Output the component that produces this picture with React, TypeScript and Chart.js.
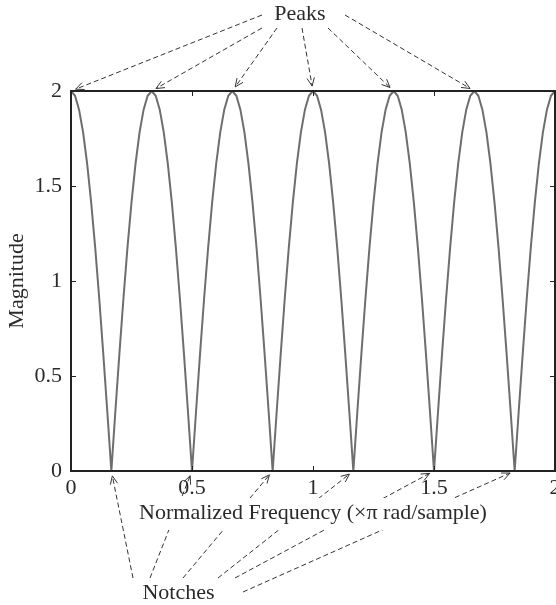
import React, { useEffect, useRef } from "react";
import { Chart, registerables } from "chart.js";

Chart.register(...registerables);

// Normalized frequency (×π rad/sample)
const freqs = [
  0, 0.0167, 0.0333, 0.05, 0.0667, 0.0833, 0.1, 0.1167, 0.1333, 0.15,
  0.1667, 0.1833, 0.2, 0.2167, 0.2333, 0.25, 0.2667, 0.2833, 0.3, 0.3167,
  0.3333, 0.35, 0.3667, 0.3833, 0.4, 0.4167, 0.4333, 0.45, 0.4667, 0.4833,
  0.5, 0.5167, 0.5333, 0.55, 0.5667, 0.5833, 0.6, 0.6167, 0.6333, 0.65,
  0.6667, 0.6833, 0.7, 0.7167, 0.7333, 0.75, 0.7667, 0.7833, 0.8, 0.8167,
  0.8333, 0.85, 0.8667, 0.8833, 0.9, 0.9167, 0.9333, 0.95, 0.9667, 0.9833,
  1, 1.0167, 1.0333, 1.05, 1.0667, 1.0833, 1.1, 1.1167, 1.1333, 1.15,
  1.1667, 1.1833, 1.2, 1.2167, 1.2333, 1.25, 1.2667, 1.2833, 1.3, 1.3167,
  1.3333, 1.35, 1.3667, 1.3833, 1.4, 1.4167, 1.4333, 1.45, 1.4667, 1.4833,
  1.5, 1.5167, 1.5333, 1.55, 1.5667, 1.5833, 1.6, 1.6167, 1.6333, 1.65,
  1.6667, 1.6833, 1.7, 1.7167, 1.7333, 1.75, 1.7667, 1.7833, 1.8, 1.8167,
  1.8333, 1.85, 1.8667, 1.8833, 1.9, 1.9167, 1.9333, 1.95, 1.9667, 1.9833,
  2,
];

// Magnitude response
const magnitude = [
  2, 1.975, 1.902, 1.782, 1.618, 1.414, 1.176, 0.908, 0.618, 0.313,
  0, 0.313, 0.618, 0.908, 1.176, 1.414, 1.618, 1.782, 1.902, 1.975,
  2, 1.975, 1.902, 1.782, 1.618, 1.414, 1.176, 0.908, 0.618, 0.313,
  0, 0.313, 0.618, 0.908, 1.176, 1.414, 1.618, 1.782, 1.902, 1.975,
  2, 1.975, 1.902, 1.782, 1.618, 1.414, 1.176, 0.908, 0.618, 0.313,
  0, 0.313, 0.618, 0.908, 1.176, 1.414, 1.618, 1.782, 1.902, 1.975,
  2, 1.975, 1.902, 1.782, 1.618, 1.414, 1.176, 0.908, 0.618, 0.313,
  0, 0.313, 0.618, 0.908, 1.176, 1.414, 1.618, 1.782, 1.902, 1.975,
  2, 1.975, 1.902, 1.782, 1.618, 1.414, 1.176, 0.908, 0.618, 0.313,
  0, 0.313, 0.618, 0.908, 1.176, 1.414, 1.618, 1.782, 1.902, 1.975,
  2, 1.975, 1.902, 1.782, 1.618, 1.414, 1.176, 0.908, 0.618, 0.313,
  0, 0.313, 0.618, 0.908, 1.176, 1.414, 1.618, 1.782, 1.902, 1.975,
  2,
];

const xTickValues = [0, 0.5, 1, 1.5, 2];
const xTickLabels = ["0", "0.5", "1", "1.5", "2"];
const yTickValues = [0, 0.5, 1, 1.5, 2];
const yTickLabels = ["0", "0.5", "1", "1.5", "2"];

const peakFreqs = [0, 0.3333, 0.6667, 1, 1.3333, 1.6667];
const peakValue = 2;
const notchFreqs = [0.1667, 0.5, 0.8333, 1.1667, 1.5, 1.8333];
const notchValue = 0;

const peakLabel = "Peaks";
const notchLabel = "Notches";
const xTitle = "Normalized Frequency (×π rad/sample)";
const yTitle = "Magnitude";

const FONT_FAMILY = '"Liberation Serif", "Times New Roman", serif';
const FONT_SIZE = 22;
const TEXT_COLOR = "#2a2a2a";
const AXIS_COLOR = "#222222";
const CURVE_COLOR = "#6e6e6e";

function drawArrow(ctx: CanvasRenderingContext2D, x0: number, y0: number, x1: number, y1: number) {
  const dx = x1 - x0;
  const dy = y1 - y0;
  const len = Math.hypot(dx, dy);
  const ux = dx / len;
  const uy = dy / len;
  const shorten = 5;
  const tx = x1 - ux * shorten;
  const ty = y1 - uy * shorten;
  ctx.save();
  ctx.strokeStyle = "#333";
  ctx.lineWidth = 1;
  ctx.setLineDash([5, 3]);
  ctx.beginPath();
  ctx.moveTo(x0, y0);
  ctx.lineTo(tx, ty);
  ctx.stroke();
  ctx.setLineDash([]);
  const head = 9;
  const ang = (24 * Math.PI) / 180;
  const a = Math.atan2(uy, ux);
  ctx.beginPath();
  ctx.moveTo(tx - head * Math.cos(a - ang), ty - head * Math.sin(a - ang));
  ctx.lineTo(tx, ty);
  ctx.lineTo(tx - head * Math.cos(a + ang), ty - head * Math.sin(a + ang));
  ctx.stroke();
  ctx.restore();
}

const annotationPlugin = {
  id: "annotations",
  beforeDraw(chart: any) {
    const ctx: CanvasRenderingContext2D = chart.ctx;
    const xs = chart.scales.x;
    const ys = chart.scales.y;
    const peakStarts = [
      [262, 15], [262, 28], [277, 28], [302, 28], [328, 28], [345, 15],
    ];
    const notchStarts = [
      [133, 578], [150, 578], [183, 578], [218, 578], [235, 578], [243, 592],
    ];
    peakFreqs.forEach((f, i) => {
      drawArrow(ctx, peakStarts[i][0], peakStarts[i][1], xs.getPixelForValue(f), ys.getPixelForValue(peakValue));
    });
    notchFreqs.forEach((f, i) => {
      drawArrow(ctx, notchStarts[i][0], notchStarts[i][1], xs.getPixelForValue(f), ys.getPixelForValue(notchValue));
    });
    // white backing under the x-axis title so the arrows pass behind it
    ctx.save();
    ctx.font = `${FONT_SIZE}px ${FONT_FAMILY}`;
    const w = ctx.measureText(xTitle).width;
    const cx = (chart.chartArea.left + chart.chartArea.right) / 2;
    ctx.fillStyle = "#ffffff";
    ctx.fillRect(cx - w / 2 - 3, 498, w + 6, 32);
    ctx.restore();
    // annotation labels
    ctx.save();
    ctx.font = `${FONT_SIZE}px ${FONT_FAMILY}`;
    ctx.fillStyle = TEXT_COLOR;
    ctx.textAlign = "center";
    ctx.textBaseline = "middle";
    ctx.fillText(peakLabel, 300, 14.5);
    ctx.fillText(notchLabel, 178.5, 593.5);
    ctx.restore();
  },
  afterDatasetsDraw(chart: any) {
    const ctx: CanvasRenderingContext2D = chart.ctx;
    const { left, right, top, bottom } = chart.chartArea;
    const xs = chart.scales.x;
    const ys = chart.scales.y;
    ctx.save();
    ctx.strokeStyle = AXIS_COLOR;
    ctx.lineWidth = 1;
    const tl = 5;
    ctx.beginPath();
    xTickValues.forEach((v) => {
      const px = Math.round(xs.getPixelForValue(v)) + 0.5;
      ctx.moveTo(px, bottom);
      ctx.lineTo(px, bottom - tl);
      ctx.moveTo(px, top);
      ctx.lineTo(px, top + tl);
    });
    yTickValues.forEach((v) => {
      const py = Math.round(ys.getPixelForValue(v)) + 0.5;
      ctx.moveTo(left, py);
      ctx.lineTo(left + tl, py);
      ctx.moveTo(right, py);
      ctx.lineTo(right - tl, py);
    });
    ctx.stroke();
    ctx.lineWidth = 2;
    ctx.strokeRect(left, top, right - left, bottom - top);
    ctx.restore();
  },
};

export default function App() {
  const canvasRef = useRef<HTMLCanvasElement | null>(null);

  useEffect(() => {
    if (!canvasRef.current) return;
    const font = { family: FONT_FAMILY, size: FONT_SIZE };
    const chart = new Chart(canvasRef.current, {
      type: "line",
      data: {
        datasets: [
          {
            data: freqs.map((f, i) => ({ x: f, y: magnitude[i] })),
            borderColor: CURVE_COLOR,
            borderWidth: 2,
            pointRadius: 0,
            tension: 0,
            fill: false,
          },
        ],
      },
      options: {
        responsive: false,
        animation: false,
        events: [],
        layout: { padding: { top: 91, right: 1, left: 0, bottom: 0 } },
        plugins: {
          legend: { display: false },
          tooltip: { enabled: false },
        },
        scales: {
          x: {
            type: "linear",
            min: 0,
            max: 2,
            afterBuildTicks: (s: any) => {
              s.ticks = xTickValues.map((v) => ({ value: v }));
            },
            afterFit: (s: any) => {
              s.height = 134;
              s.paddingLeft = 0;
              s.paddingRight = 0;
            },
            grid: { display: false, drawTicks: false },
            border: { display: false },
            ticks: {
              font,
              color: TEXT_COLOR,
              padding: 4.3,
              maxRotation: 0,
              autoSkip: false,
              callback: (v: any) => xTickLabels[xTickValues.indexOf(Number(v))] ?? String(v),
            },
            title: {
              display: true,
              text: xTitle,
              font,
              color: TEXT_COLOR,
              padding: { top: 0, bottom: 78.8 },
            },
          },
          y: {
            type: "linear",
            min: 0,
            max: 2,
            afterBuildTicks: (s: any) => {
              s.ticks = yTickValues.map((v) => ({ value: v }));
            },
            afterFit: (s: any) => {
              s.width = 71;
              s.paddingTop = 0;
              s.paddingBottom = 0;
            },
            grid: { display: false, drawTicks: false },
            border: { display: false },
            ticks: {
              font,
              color: TEXT_COLOR,
              padding: 9,
              autoSkip: false,
              callback: (v: any) => yTickLabels[yTickValues.indexOf(Number(v))] ?? String(v),
            },
            title: {
              display: true,
              text: yTitle,
              font,
              color: TEXT_COLOR,
              padding: { top: 3.8, bottom: 0 },
            },
          },
        },
      },
      plugins: [annotationPlugin],
    });
    return () => chart.destroy();
  }, []);

  return (
    <div style={{ position: "fixed", left: 0, top: 0, width: 556, height: 605, background: "#fff" }}>
      <canvas ref={canvasRef} width={556} height={605} style={{ display: "block" }} />
    </div>
  );
}
